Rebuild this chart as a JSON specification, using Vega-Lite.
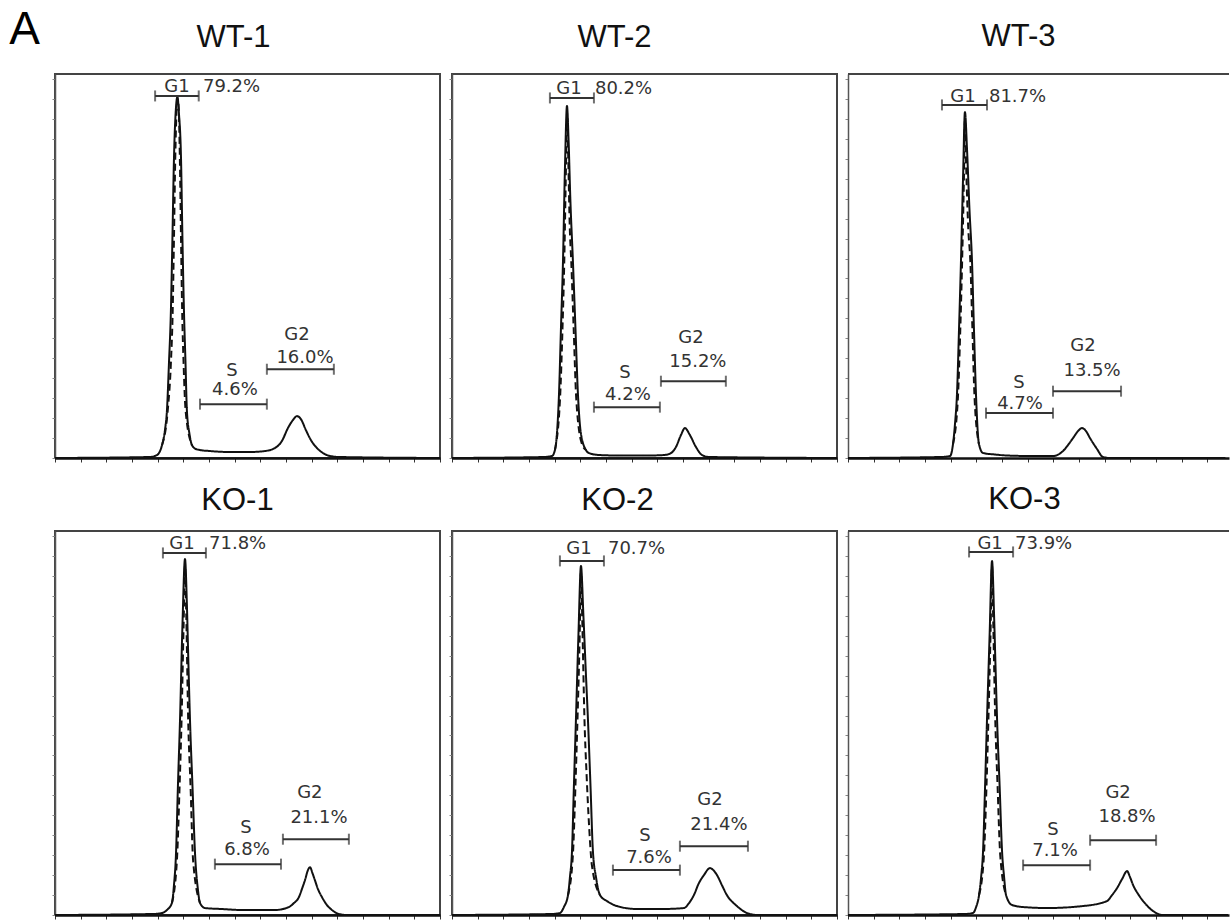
{
"$schema":"https://vega.github.io/schema/vega-lite/v6.json",
"padding":{"left":9,"top":6,"right":0,"bottom":0},
"background":"white",
"title":{"text":"A","orient":"left","anchor":"end","angle":0,"align":"left","baseline":"top","dy":-13,"offset":10,"fontSize":46,"font":"Liberation Sans","fontWeight":"normal","frame":"bounds","color":"#000"},
"config":{
 "view":{"stroke":"#444","strokeWidth":2},
 "title":{"font":"Liberation Sans","fontSize":31,"fontWeight":"normal","color":"#111"},
 "axisX":{"domainColor":"#111","domainWidth":2.5,"tickColor":"#333","tickSize":4,"tickWidth":1,"labels":false,"grid":false},
 "axisY":{"domainColor":"#555","domainWidth":1.5,"tickColor":"#888","tickSize":3,"tickWidth":1,"labels":false,"grid":false,"minExtent":0}
},
"datasets":{"d":[
{"s":"WT-1","k":"c","t":"1","x":0,"y":0},{"s":"WT-1","k":"c","t":"1","x":74,"y":1},{"s":"WT-1","k":"c","t":"1","x":79.5,"y":3},{"s":"WT-1","k":"c","t":"1","x":83.4,"y":13},{"s":"WT-1","k":"c","t":"1","x":85.7,"y":28},{"s":"WT-1","k":"c","t":"1","x":87.2,"y":47},{"s":"WT-1","k":"c","t":"1","x":88.8,"y":95},{"s":"WT-1","k":"c","t":"1","x":90.3,"y":147},{"s":"WT-1","k":"c","t":"1","x":91.5,"y":220},{"s":"WT-1","k":"c","t":"1","x":92.7,"y":300},{"s":"WT-1","k":"c","t":"1","x":94.2,"y":350},{"s":"WT-1","k":"c","t":"1","x":95.4,"y":362},{"s":"WT-1","k":"c","t":"1","x":96.6,"y":345},{"s":"WT-1","k":"c","t":"1","x":98.2,"y":300},{"s":"WT-1","k":"c","t":"1","x":99.3,"y":220},{"s":"WT-1","k":"c","t":"1","x":100.5,"y":147},{"s":"WT-1","k":"c","t":"1","x":101.7,"y":95},{"s":"WT-1","k":"c","t":"1","x":102.8,"y":47},{"s":"WT-1","k":"c","t":"1","x":104.8,"y":24},{"s":"WT-1","k":"c","t":"1","x":106.7,"y":13},{"s":"WT-1","k":"c","t":"1","x":109.8,"y":9},{"s":"WT-1","k":"c","t":"1","x":113,"y":8},{"s":"WT-1","k":"c","t":"1","x":120.7,"y":7},{"s":"WT-1","k":"c","t":"1","x":136.3,"y":6},{"s":"WT-1","k":"c","t":"1","x":151.9,"y":6},{"s":"WT-1","k":"c","t":"1","x":163.6,"y":7},{"s":"WT-1","k":"c","t":"1","x":171.4,"y":10},{"s":"WT-1","k":"c","t":"1","x":176.8,"y":17},{"s":"WT-1","k":"c","t":"1","x":181.5,"y":30},{"s":"WT-1","k":"c","t":"1","x":185.4,"y":38},{"s":"WT-1","k":"c","t":"1","x":188.5,"y":42},{"s":"WT-1","k":"c","t":"1","x":191.6,"y":39},{"s":"WT-1","k":"c","t":"1","x":195.5,"y":28},{"s":"WT-1","k":"c","t":"1","x":199.4,"y":18},{"s":"WT-1","k":"c","t":"1","x":204.1,"y":10},{"s":"WT-1","k":"c","t":"1","x":208.8,"y":5},{"s":"WT-1","k":"c","t":"1","x":214.2,"y":2},{"s":"WT-1","k":"c","t":"1","x":222,"y":1},{"s":"WT-1","k":"c","t":"1","x":300,"y":0},
{"s":"WT-1","k":"c","t":"2","x":83.4,"y":13},{"s":"WT-1","k":"c","t":"2","x":87.8,"y":47},{"s":"WT-1","k":"c","t":"2","x":90.3,"y":95},{"s":"WT-1","k":"c","t":"2","x":91.7,"y":147},{"s":"WT-1","k":"c","t":"2","x":92.7,"y":220},{"s":"WT-1","k":"c","t":"2","x":93.7,"y":300},{"s":"WT-1","k":"c","t":"2","x":94.8,"y":350},{"s":"WT-1","k":"c","t":"2","x":95.6,"y":360},{"s":"WT-1","k":"c","t":"2","x":96.4,"y":350},{"s":"WT-1","k":"c","t":"2","x":97.3,"y":300},{"s":"WT-1","k":"c","t":"2","x":98.2,"y":220},{"s":"WT-1","k":"c","t":"2","x":99.1,"y":147},{"s":"WT-1","k":"c","t":"2","x":100.2,"y":95},{"s":"WT-1","k":"c","t":"2","x":101.8,"y":47},{"s":"WT-1","k":"c","t":"2","x":106.7,"y":13},
{"s":"WT-1","k":"g","g":"G1","x":78,"x2":112,"y":363},{"s":"WT-1","k":"g","g":"S","x":113,"x2":165.1,"y":54},{"s":"WT-1","k":"g","g":"G2","x":165.1,"x2":217.3,"y":89},
{"s":"WT-1","k":"n","x":95,"y":367,"text":"G1"},{"s":"WT-1","k":"p","x":115.3,"y":367,"text":"79.2%"},{"s":"WT-1","k":"n","x":137.9,"y":82,"text":"S"},{"s":"WT-1","k":"n","x":140.2,"y":63,"text":"4.6%"},{"s":"WT-1","k":"n","x":188.5,"y":118,"text":"G2"},{"s":"WT-1","k":"n","x":194.8,"y":95,"text":"16.0%"},

{"s":"WT-2","k":"c","t":"1","x":0,"y":0},{"s":"WT-2","k":"c","t":"1","x":71.7,"y":1},{"s":"WT-2","k":"c","t":"1","x":77.9,"y":2},{"s":"WT-2","k":"c","t":"1","x":80.2,"y":8},{"s":"WT-2","k":"c","t":"1","x":81.8,"y":25},{"s":"WT-2","k":"c","t":"1","x":83.4,"y":65},{"s":"WT-2","k":"c","t":"1","x":84.9,"y":130},{"s":"WT-2","k":"c","t":"1","x":86.5,"y":198},{"s":"WT-2","k":"c","t":"1","x":88,"y":290},{"s":"WT-2","k":"c","t":"1","x":89.6,"y":353},{"s":"WT-2","k":"c","t":"1","x":90.8,"y":320},{"s":"WT-2","k":"c","t":"1","x":92.2,"y":260},{"s":"WT-2","k":"c","t":"1","x":94.2,"y":198},{"s":"WT-2","k":"c","t":"1","x":96.2,"y":130},{"s":"WT-2","k":"c","t":"1","x":98.1,"y":65},{"s":"WT-2","k":"c","t":"1","x":100.4,"y":25},{"s":"WT-2","k":"c","t":"1","x":104.4,"y":8},{"s":"WT-2","k":"c","t":"1","x":106.7,"y":5},{"s":"WT-2","k":"c","t":"1","x":114.5,"y":3},{"s":"WT-2","k":"c","t":"1","x":130.1,"y":2.5},{"s":"WT-2","k":"c","t":"1","x":153.5,"y":2.5},{"s":"WT-2","k":"c","t":"1","x":165.1,"y":3},{"s":"WT-2","k":"c","t":"1","x":169.2,"y":4},{"s":"WT-2","k":"c","t":"1","x":174.5,"y":11},{"s":"WT-2","k":"c","t":"1","x":178.4,"y":23},{"s":"WT-2","k":"c","t":"1","x":181.5,"y":30},{"s":"WT-2","k":"c","t":"1","x":185.4,"y":23},{"s":"WT-2","k":"c","t":"1","x":190.1,"y":11},{"s":"WT-2","k":"c","t":"1","x":194.8,"y":3},{"s":"WT-2","k":"c","t":"1","x":200.2,"y":1},{"s":"WT-2","k":"c","t":"1","x":300,"y":0},
{"s":"WT-2","k":"c","t":"2","x":80.2,"y":8},{"s":"WT-2","k":"c","t":"2","x":84.2,"y":60},{"s":"WT-2","k":"c","t":"2","x":86.1,"y":130},{"s":"WT-2","k":"c","t":"2","x":87.5,"y":198},{"s":"WT-2","k":"c","t":"2","x":88.8,"y":290},{"s":"WT-2","k":"c","t":"2","x":89.8,"y":345},{"s":"WT-2","k":"c","t":"2","x":90.6,"y":300},{"s":"WT-2","k":"c","t":"2","x":91.8,"y":230},{"s":"WT-2","k":"c","t":"2","x":92.9,"y":198},{"s":"WT-2","k":"c","t":"2","x":94.8,"y":130},{"s":"WT-2","k":"c","t":"2","x":96.8,"y":60},{"s":"WT-2","k":"c","t":"2","x":101,"y":15},{"s":"WT-2","k":"c","t":"2","x":104.4,"y":8},
{"s":"WT-2","k":"g","g":"G1","x":76.3,"x2":110.6,"y":361},{"s":"WT-2","k":"g","g":"S","x":110.6,"x2":162,"y":51},{"s":"WT-2","k":"g","g":"G2","x":162.8,"x2":213.4,"y":77},
{"s":"WT-2","k":"n","x":91.1,"y":365,"text":"G1"},{"s":"WT-2","k":"p","x":111.4,"y":365,"text":"80.2%"},{"s":"WT-2","k":"n","x":134.8,"y":80,"text":"S"},{"s":"WT-2","k":"n","x":137.1,"y":58,"text":"4.2%"},{"s":"WT-2","k":"n","x":186.2,"y":115,"text":"G2"},{"s":"WT-2","k":"n","x":191.6,"y":91,"text":"15.2%"},

{"s":"WT-3","k":"c","t":"1","x":0,"y":0},{"s":"WT-3","k":"c","t":"1","x":71.7,"y":1},{"s":"WT-3","k":"c","t":"1","x":79.5,"y":2},{"s":"WT-3","k":"c","t":"1","x":81.8,"y":14},{"s":"WT-3","k":"c","t":"1","x":83.4,"y":35},{"s":"WT-3","k":"c","t":"1","x":84.9,"y":64},{"s":"WT-3","k":"c","t":"1","x":86.5,"y":130},{"s":"WT-3","k":"c","t":"1","x":88,"y":197},{"s":"WT-3","k":"c","t":"1","x":89.6,"y":280},{"s":"WT-3","k":"c","t":"1","x":91.1,"y":347},{"s":"WT-3","k":"c","t":"1","x":92.7,"y":310},{"s":"WT-3","k":"c","t":"1","x":94.6,"y":250},{"s":"WT-3","k":"c","t":"1","x":96.6,"y":197},{"s":"WT-3","k":"c","t":"1","x":98.1,"y":130},{"s":"WT-3","k":"c","t":"1","x":99.7,"y":64},{"s":"WT-3","k":"c","t":"1","x":102,"y":14},{"s":"WT-3","k":"c","t":"1","x":105.2,"y":5},{"s":"WT-3","k":"c","t":"1","x":114.5,"y":3.5},{"s":"WT-3","k":"c","t":"1","x":123.9,"y":2.5},{"s":"WT-3","k":"c","t":"1","x":141.8,"y":2},{"s":"WT-3","k":"c","t":"1","x":159.7,"y":2},{"s":"WT-3","k":"c","t":"1","x":167.5,"y":7},{"s":"WT-3","k":"c","t":"1","x":171.4,"y":13},{"s":"WT-3","k":"c","t":"1","x":175.3,"y":20},{"s":"WT-3","k":"c","t":"1","x":179.2,"y":27},{"s":"WT-3","k":"c","t":"1","x":182.3,"y":30},{"s":"WT-3","k":"c","t":"1","x":185.4,"y":27},{"s":"WT-3","k":"c","t":"1","x":188.5,"y":20},{"s":"WT-3","k":"c","t":"1","x":194,"y":9},{"s":"WT-3","k":"c","t":"1","x":198.6,"y":1},{"s":"WT-3","k":"c","t":"1","x":204.1,"y":0},{"s":"WT-3","k":"c","t":"1","x":294,"y":0},
{"s":"WT-3","k":"c","t":"2","x":81.8,"y":14},{"s":"WT-3","k":"c","t":"2","x":85.6,"y":60},{"s":"WT-3","k":"c","t":"2","x":87.5,"y":130},{"s":"WT-3","k":"c","t":"2","x":88.9,"y":197},{"s":"WT-3","k":"c","t":"2","x":90.3,"y":280},{"s":"WT-3","k":"c","t":"2","x":91.1,"y":340},{"s":"WT-3","k":"c","t":"2","x":92.1,"y":290},{"s":"WT-3","k":"c","t":"2","x":93.7,"y":230},{"s":"WT-3","k":"c","t":"2","x":95.3,"y":197},{"s":"WT-3","k":"c","t":"2","x":96.9,"y":130},{"s":"WT-3","k":"c","t":"2","x":98.6,"y":60},{"s":"WT-3","k":"c","t":"2","x":102,"y":14},
{"s":"WT-3","k":"g","g":"G1","x":73.2,"x2":108.3,"y":354},{"s":"WT-3","k":"g","g":"S","x":107.5,"x2":159.7,"y":45},{"s":"WT-3","k":"g","g":"G2","x":159.7,"x2":212.7,"y":67},
{"s":"WT-3","k":"n","x":89.6,"y":357,"text":"G1"},{"s":"WT-3","k":"p","x":109.8,"y":357,"text":"81.7%"},{"s":"WT-3","k":"n","x":133.2,"y":70,"text":"S"},{"s":"WT-3","k":"n","x":134,"y":49,"text":"4.7%"},{"s":"WT-3","k":"n","x":183.1,"y":107,"text":"G2"},{"s":"WT-3","k":"n","x":190.1,"y":82,"text":"13.5%"},

{"s":"KO-1","k":"c","t":"1","x":0,"y":0},{"s":"KO-1","k":"c","t":"1","x":75.6,"y":1},{"s":"KO-1","k":"c","t":"1","x":83.4,"y":2},{"s":"KO-1","k":"c","t":"1","x":87.2,"y":5},{"s":"KO-1","k":"c","t":"1","x":91.1,"y":12},{"s":"KO-1","k":"c","t":"1","x":92.7,"y":30},{"s":"KO-1","k":"c","t":"1","x":94.3,"y":62},{"s":"KO-1","k":"c","t":"1","x":95.8,"y":130},{"s":"KO-1","k":"c","t":"1","x":97.4,"y":195},{"s":"KO-1","k":"c","t":"1","x":99.3,"y":290},{"s":"KO-1","k":"c","t":"1","x":101.3,"y":357},{"s":"KO-1","k":"c","t":"1","x":102.8,"y":310},{"s":"KO-1","k":"c","t":"1","x":104,"y":250},{"s":"KO-1","k":"c","t":"1","x":105.2,"y":195},{"s":"KO-1","k":"c","t":"1","x":107.1,"y":130},{"s":"KO-1","k":"c","t":"1","x":109.1,"y":62},{"s":"KO-1","k":"c","t":"1","x":111.4,"y":25},{"s":"KO-1","k":"c","t":"1","x":113,"y":12},{"s":"KO-1","k":"c","t":"1","x":116.9,"y":7},{"s":"KO-1","k":"c","t":"1","x":130.1,"y":6},{"s":"KO-1","k":"c","t":"1","x":145.7,"y":5},{"s":"KO-1","k":"c","t":"1","x":171.4,"y":5},{"s":"KO-1","k":"c","t":"1","x":182.3,"y":8},{"s":"KO-1","k":"c","t":"1","x":186.2,"y":12},{"s":"KO-1","k":"c","t":"1","x":190.1,"y":18},{"s":"KO-1","k":"c","t":"1","x":192.4,"y":26},{"s":"KO-1","k":"c","t":"1","x":194.8,"y":35},{"s":"KO-1","k":"c","t":"1","x":197.1,"y":45},{"s":"KO-1","k":"c","t":"1","x":198.7,"y":48},{"s":"KO-1","k":"c","t":"1","x":200.6,"y":42},{"s":"KO-1","k":"c","t":"1","x":202.5,"y":35},{"s":"KO-1","k":"c","t":"1","x":204.9,"y":26},{"s":"KO-1","k":"c","t":"1","x":208,"y":18},{"s":"KO-1","k":"c","t":"1","x":211.9,"y":10},{"s":"KO-1","k":"c","t":"1","x":215.8,"y":5},{"s":"KO-1","k":"c","t":"1","x":221.2,"y":1},{"s":"KO-1","k":"c","t":"1","x":227.5,"y":0},{"s":"KO-1","k":"c","t":"1","x":300,"y":0},
{"s":"KO-1","k":"c","t":"2","x":91.1,"y":12},{"s":"KO-1","k":"c","t":"2","x":95,"y":55},{"s":"KO-1","k":"c","t":"2","x":97.1,"y":130},{"s":"KO-1","k":"c","t":"2","x":98.6,"y":195},{"s":"KO-1","k":"c","t":"2","x":100.2,"y":290},{"s":"KO-1","k":"c","t":"2","x":101.3,"y":350},{"s":"KO-1","k":"c","t":"2","x":102.3,"y":300},{"s":"KO-1","k":"c","t":"2","x":103.8,"y":195},{"s":"KO-1","k":"c","t":"2","x":105.6,"y":130},{"s":"KO-1","k":"c","t":"2","x":107.6,"y":55},{"s":"KO-1","k":"c","t":"2","x":113,"y":12},
{"s":"KO-1","k":"g","g":"G1","x":84.1,"x2":117.6,"y":363},{"s":"KO-1","k":"g","g":"S","x":124.6,"x2":176.1,"y":51},{"s":"KO-1","k":"g","g":"G2","x":177.6,"x2":229,"y":76},
{"s":"KO-1","k":"n","x":98.9,"y":367,"text":"G1"},{"s":"KO-1","k":"p","x":120,"y":367,"text":"71.8%"},{"s":"KO-1","k":"n","x":148.8,"y":82,"text":"S"},{"s":"KO-1","k":"n","x":149.6,"y":60,"text":"6.8%"},{"s":"KO-1","k":"n","x":198.6,"y":117,"text":"G2"},{"s":"KO-1","k":"n","x":205.7,"y":92,"text":"21.1%"},

{"s":"KO-2","k":"c","t":"1","x":0,"y":0},{"s":"KO-2","k":"c","t":"1","x":77.9,"y":1},{"s":"KO-2","k":"c","t":"1","x":84.1,"y":2},{"s":"KO-2","k":"c","t":"1","x":87.2,"y":8},{"s":"KO-2","k":"c","t":"1","x":90.4,"y":20},{"s":"KO-2","k":"c","t":"1","x":91.9,"y":38},{"s":"KO-2","k":"c","t":"1","x":93.5,"y":64},{"s":"KO-2","k":"c","t":"1","x":95,"y":130},{"s":"KO-2","k":"c","t":"1","x":96.6,"y":197},{"s":"KO-2","k":"c","t":"1","x":98.5,"y":280},{"s":"KO-2","k":"c","t":"1","x":100.5,"y":350},{"s":"KO-2","k":"c","t":"1","x":102.4,"y":300},{"s":"KO-2","k":"c","t":"1","x":104.4,"y":240},{"s":"KO-2","k":"c","t":"1","x":105.9,"y":197},{"s":"KO-2","k":"c","t":"1","x":107.9,"y":130},{"s":"KO-2","k":"c","t":"1","x":109.8,"y":64},{"s":"KO-2","k":"c","t":"1","x":112.2,"y":38},{"s":"KO-2","k":"c","t":"1","x":115.3,"y":20},{"s":"KO-2","k":"c","t":"1","x":120.7,"y":14},{"s":"KO-2","k":"c","t":"1","x":128.5,"y":9},{"s":"KO-2","k":"c","t":"1","x":144.1,"y":6},{"s":"KO-2","k":"c","t":"1","x":163.6,"y":6},{"s":"KO-2","k":"c","t":"1","x":180.8,"y":7},{"s":"KO-2","k":"c","t":"1","x":184.7,"y":12},{"s":"KO-2","k":"c","t":"1","x":188.5,"y":20},{"s":"KO-2","k":"c","t":"1","x":192.4,"y":32},{"s":"KO-2","k":"c","t":"1","x":196.3,"y":40},{"s":"KO-2","k":"c","t":"1","x":201,"y":47},{"s":"KO-2","k":"c","t":"1","x":206.5,"y":40},{"s":"KO-2","k":"c","t":"1","x":210.3,"y":30},{"s":"KO-2","k":"c","t":"1","x":214.2,"y":20},{"s":"KO-2","k":"c","t":"1","x":222,"y":9},{"s":"KO-2","k":"c","t":"1","x":229.8,"y":2},{"s":"KO-2","k":"c","t":"1","x":237.6,"y":0},{"s":"KO-2","k":"c","t":"1","x":300,"y":0},
{"s":"KO-2","k":"c","t":"2","x":90.4,"y":20},{"s":"KO-2","k":"c","t":"2","x":94.2,"y":60},{"s":"KO-2","k":"c","t":"2","x":96.2,"y":130},{"s":"KO-2","k":"c","t":"2","x":97.8,"y":197},{"s":"KO-2","k":"c","t":"2","x":99.5,"y":280},{"s":"KO-2","k":"c","t":"2","x":100.5,"y":345},{"s":"KO-2","k":"c","t":"2","x":101.6,"y":290},{"s":"KO-2","k":"c","t":"2","x":103.2,"y":197},{"s":"KO-2","k":"c","t":"2","x":104.9,"y":140},{"s":"KO-2","k":"c","t":"2","x":106.8,"y":90},{"s":"KO-2","k":"c","t":"2","x":109,"y":50},{"s":"KO-2","k":"c","t":"2","x":115.3,"y":20},
{"s":"KO-2","k":"g","g":"G1","x":84.1,"x2":118.4,"y":355},{"s":"KO-2","k":"g","g":"S","x":125.4,"x2":177.6,"y":45},{"s":"KO-2","k":"g","g":"G2","x":177.6,"x2":230.6,"y":69},
{"s":"KO-2","k":"n","x":98.9,"y":362,"text":"G1"},{"s":"KO-2","k":"p","x":121.5,"y":362,"text":"70.7%"},{"s":"KO-2","k":"n","x":150.3,"y":74,"text":"S"},{"s":"KO-2","k":"n","x":153.5,"y":52,"text":"7.6%"},{"s":"KO-2","k":"n","x":201,"y":110,"text":"G2"},{"s":"KO-2","k":"n","x":208,"y":85,"text":"21.4%"},

{"s":"KO-3","k":"c","t":"1","x":0,"y":0},{"s":"KO-3","k":"c","t":"1","x":91.2,"y":1},{"s":"KO-3","k":"c","t":"1","x":97.4,"y":2},{"s":"KO-3","k":"c","t":"1","x":99.8,"y":8},{"s":"KO-3","k":"c","t":"1","x":102.1,"y":20},{"s":"KO-3","k":"c","t":"1","x":103.7,"y":38},{"s":"KO-3","k":"c","t":"1","x":105.2,"y":64},{"s":"KO-3","k":"c","t":"1","x":106.8,"y":130},{"s":"KO-3","k":"c","t":"1","x":108.3,"y":197},{"s":"KO-3","k":"c","t":"1","x":110.3,"y":280},{"s":"KO-3","k":"c","t":"1","x":112.2,"y":355},{"s":"KO-3","k":"c","t":"1","x":113.8,"y":300},{"s":"KO-3","k":"c","t":"1","x":114.9,"y":250},{"s":"KO-3","k":"c","t":"1","x":116.1,"y":197},{"s":"KO-3","k":"c","t":"1","x":118.1,"y":130},{"s":"KO-3","k":"c","t":"1","x":120,"y":64},{"s":"KO-3","k":"c","t":"1","x":121.6,"y":38},{"s":"KO-3","k":"c","t":"1","x":123.1,"y":20},{"s":"KO-3","k":"c","t":"1","x":127.8,"y":10},{"s":"KO-3","k":"c","t":"1","x":136.4,"y":8},{"s":"KO-3","k":"c","t":"1","x":155.1,"y":7},{"s":"KO-3","k":"c","t":"1","x":183.1,"y":9},{"s":"KO-3","k":"c","t":"1","x":201.8,"y":14},{"s":"KO-3","k":"c","t":"1","x":205.7,"y":20},{"s":"KO-3","k":"c","t":"1","x":209.6,"y":27},{"s":"KO-3","k":"c","t":"1","x":213.5,"y":36},{"s":"KO-3","k":"c","t":"1","x":217.4,"y":44},{"s":"KO-3","k":"c","t":"1","x":219.7,"y":38},{"s":"KO-3","k":"c","t":"1","x":222.1,"y":30},{"s":"KO-3","k":"c","t":"1","x":226,"y":21},{"s":"KO-3","k":"c","t":"1","x":229.9,"y":14},{"s":"KO-3","k":"c","t":"1","x":237.6,"y":4},{"s":"KO-3","k":"c","t":"1","x":245.4,"y":0},{"s":"KO-3","k":"c","t":"1","x":296,"y":0},
{"s":"KO-3","k":"c","t":"2","x":102.1,"y":20},{"s":"KO-3","k":"c","t":"2","x":105.9,"y":60},{"s":"KO-3","k":"c","t":"2","x":107.9,"y":130},{"s":"KO-3","k":"c","t":"2","x":109.4,"y":197},{"s":"KO-3","k":"c","t":"2","x":111,"y":280},{"s":"KO-3","k":"c","t":"2","x":112.2,"y":350},{"s":"KO-3","k":"c","t":"2","x":113.2,"y":290},{"s":"KO-3","k":"c","t":"2","x":114.7,"y":197},{"s":"KO-3","k":"c","t":"2","x":116.5,"y":130},{"s":"KO-3","k":"c","t":"2","x":118.6,"y":60},{"s":"KO-3","k":"c","t":"2","x":123.1,"y":20},
{"s":"KO-3","k":"g","g":"G1","x":94.3,"x2":128.6,"y":364},{"s":"KO-3","k":"g","g":"S","x":136.4,"x2":188.6,"y":50},{"s":"KO-3","k":"g","g":"G2","x":188.6,"x2":240,"y":75},
{"s":"KO-3","k":"n","x":110.7,"y":367,"text":"G1"},{"s":"KO-3","k":"p","x":130.1,"y":367,"text":"73.9%"},{"s":"KO-3","k":"n","x":159.7,"y":80,"text":"S"},{"s":"KO-3","k":"n","x":161.3,"y":59,"text":"7.1%"},{"s":"KO-3","k":"n","x":210.4,"y":117,"text":"G2"},{"s":"KO-3","k":"n","x":217.4,"y":93,"text":"18.8%"}
]},
"columns":3,
"spacing":{"row":20,"column":2},
"concat":[
{"width":385,"height":384,"title":{"text":"WT-1","dx":-14,"offset":20.5},"data":{"name":"d"},"transform":[{"filter":"datum.s==='WT-1'"}],
 "encoding":{"x":{"field":"x","type":"quantitative","title":null,"scale":{"domain":[0,300],"nice":false,"zero":false},"axis":{"values":[0,20,40,60,80,100,120,140,160,180,200,220,240,260,280,300]}},"y":{"field":"y","type":"quantitative","title":null,"scale":{"domain":[0,385],"nice":false,"zero":false},"axis":{"values":[0,20,40,60,80,100,120,140,160,180,200,220,240,260,280,300,320,340,360,380]}}},
 "layer":[
  {"transform":[{"filter":"datum.k==='c'"}],"mark":{"type":"line","color":"#111","strokeWidth":2,"interpolate":"monotone"},"encoding":{"strokeDash":{"field":"t","type":"nominal","scale":{"domain":["1","2"],"range":[[1,0],[7,4]]},"legend":null}}},
  {"transform":[{"filter":"datum.k==='g'"}],"mark":{"type":"rule","color":"#333","strokeWidth":2},"encoding":{"x2":{"field":"x2"}}},
  {"transform":[{"filter":"datum.k==='g'"}],"mark":{"type":"tick","orient":"vertical","size":11,"thickness":2,"color":"#333"}},
  {"transform":[{"filter":"datum.k==='g'"}],"mark":{"type":"tick","orient":"vertical","size":11,"thickness":2,"color":"#333"},"encoding":{"x":{"field":"x2","type":"quantitative","title":null,"scale":{"domain":[0,300],"nice":false,"zero":false}}}},
  {"transform":[{"filter":"datum.k==='n'"}],"mark":{"type":"text","align":"center","baseline":"alphabetic","font":"DejaVu Sans","fontSize":18,"color":"#333"},"encoding":{"text":{"field":"text"}}},
  {"transform":[{"filter":"datum.k==='p'"}],"mark":{"type":"text","align":"left","baseline":"alphabetic","font":"DejaVu Sans","fontSize":18,"color":"#333"},"encoding":{"text":{"field":"text"}}}
 ]},
{"width":385,"height":384,"title":{"text":"WT-2","dx":-30,"offset":20.5},"data":{"name":"d"},"transform":[{"filter":"datum.s==='WT-2'"}],
 "encoding":{"x":{"field":"x","type":"quantitative","title":null,"scale":{"domain":[0,300],"nice":false,"zero":false},"axis":{"values":[0,20,40,60,80,100,120,140,160,180,200,220,240,260,280,300]}},"y":{"field":"y","type":"quantitative","title":null,"scale":{"domain":[0,385],"nice":false,"zero":false},"axis":{"values":[0,20,40,60,80,100,120,140,160,180,200,220,240,260,280,300,320,340,360,380]}}},
 "layer":[
  {"transform":[{"filter":"datum.k==='c'"}],"mark":{"type":"line","color":"#111","strokeWidth":2,"interpolate":"monotone"},"encoding":{"strokeDash":{"field":"t","type":"nominal","scale":{"domain":["1","2"],"range":[[1,0],[7,4]]},"legend":null}}},
  {"transform":[{"filter":"datum.k==='g'"}],"mark":{"type":"rule","color":"#333","strokeWidth":2},"encoding":{"x2":{"field":"x2"}}},
  {"transform":[{"filter":"datum.k==='g'"}],"mark":{"type":"tick","orient":"vertical","size":11,"thickness":2,"color":"#333"}},
  {"transform":[{"filter":"datum.k==='g'"}],"mark":{"type":"tick","orient":"vertical","size":11,"thickness":2,"color":"#333"},"encoding":{"x":{"field":"x2","type":"quantitative","title":null,"scale":{"domain":[0,300],"nice":false,"zero":false}}}},
  {"transform":[{"filter":"datum.k==='n'"}],"mark":{"type":"text","align":"center","baseline":"alphabetic","font":"DejaVu Sans","fontSize":18,"color":"#333"},"encoding":{"text":{"field":"text"}}},
  {"transform":[{"filter":"datum.k==='p'"}],"mark":{"type":"text","align":"left","baseline":"alphabetic","font":"DejaVu Sans","fontSize":18,"color":"#333"},"encoding":{"text":{"field":"text"}}}
 ]},
{"width":381,"height":384,"title":{"text":"WT-3","dx":-20,"offset":20.5},"view":{"stroke":null},"data":{"name":"d"},"transform":[{"filter":"datum.s==='WT-3'"}],
 "encoding":{"x":{"field":"x","type":"quantitative","title":null,"scale":{"domain":[0,296.8],"nice":false,"zero":false},"axis":{"values":[0,20,40,60,80,100,120,140,160,180,200,220,240,260,280]}},"y":{"field":"y","type":"quantitative","title":null,"scale":{"domain":[0,385],"nice":false,"zero":false},"axis":{"values":[0,20,40,60,80,100,120,140,160,180,200,220,240,260,280,300,320,340,360,380]}}},
 "layer":[
  {"transform":[{"filter":"datum.k==='p'"}],"mark":{"type":"rule","color":"#444","strokeWidth":2},"encoding":{"x":{"datum":0,"type":"quantitative"},"x2":{"datum":296.8},"y":{"datum":385,"type":"quantitative"}}},
  {"transform":[{"filter":"datum.k==='c'"}],"mark":{"type":"line","color":"#111","strokeWidth":2,"interpolate":"monotone"},"encoding":{"strokeDash":{"field":"t","type":"nominal","scale":{"domain":["1","2"],"range":[[1,0],[7,4]]},"legend":null}}},
  {"transform":[{"filter":"datum.k==='g'"}],"mark":{"type":"rule","color":"#333","strokeWidth":2},"encoding":{"x2":{"field":"x2"}}},
  {"transform":[{"filter":"datum.k==='g'"}],"mark":{"type":"tick","orient":"vertical","size":11,"thickness":2,"color":"#333"}},
  {"transform":[{"filter":"datum.k==='g'"}],"mark":{"type":"tick","orient":"vertical","size":11,"thickness":2,"color":"#333"},"encoding":{"x":{"field":"x2","type":"quantitative","title":null,"scale":{"domain":[0,296.8],"nice":false,"zero":false}}}},
  {"transform":[{"filter":"datum.k==='n'"}],"mark":{"type":"text","align":"center","baseline":"alphabetic","font":"DejaVu Sans","fontSize":18,"color":"#333"},"encoding":{"text":{"field":"text"}}},
  {"transform":[{"filter":"datum.k==='p'"}],"mark":{"type":"text","align":"left","baseline":"alphabetic","font":"DejaVu Sans","fontSize":18,"color":"#333"},"encoding":{"text":{"field":"text"}}}
 ]},
{"width":385,"height":384,"title":{"text":"KO-1","dx":-10,"offset":14},"data":{"name":"d"},"transform":[{"filter":"datum.s==='KO-1'"}],
 "encoding":{"x":{"field":"x","type":"quantitative","title":null,"scale":{"domain":[0,300],"nice":false,"zero":false},"axis":{"values":[0,20,40,60,80,100,120,140,160,180,200,220,240,260,280,300]}},"y":{"field":"y","type":"quantitative","title":null,"scale":{"domain":[0,385],"nice":false,"zero":false},"axis":{"values":[0,20,40,60,80,100,120,140,160,180,200,220,240,260,280,300,320,340,360,380]}}},
 "layer":[
  {"transform":[{"filter":"datum.k==='c'"}],"mark":{"type":"line","color":"#111","strokeWidth":2,"interpolate":"monotone"},"encoding":{"strokeDash":{"field":"t","type":"nominal","scale":{"domain":["1","2"],"range":[[1,0],[7,4]]},"legend":null}}},
  {"transform":[{"filter":"datum.k==='g'"}],"mark":{"type":"rule","color":"#333","strokeWidth":2},"encoding":{"x2":{"field":"x2"}}},
  {"transform":[{"filter":"datum.k==='g'"}],"mark":{"type":"tick","orient":"vertical","size":11,"thickness":2,"color":"#333"}},
  {"transform":[{"filter":"datum.k==='g'"}],"mark":{"type":"tick","orient":"vertical","size":11,"thickness":2,"color":"#333"},"encoding":{"x":{"field":"x2","type":"quantitative","title":null,"scale":{"domain":[0,300],"nice":false,"zero":false}}}},
  {"transform":[{"filter":"datum.k==='n'"}],"mark":{"type":"text","align":"center","baseline":"alphabetic","font":"DejaVu Sans","fontSize":18,"color":"#333"},"encoding":{"text":{"field":"text"}}},
  {"transform":[{"filter":"datum.k==='p'"}],"mark":{"type":"text","align":"left","baseline":"alphabetic","font":"DejaVu Sans","fontSize":18,"color":"#333"},"encoding":{"text":{"field":"text"}}}
 ]},
{"width":385,"height":384,"title":{"text":"KO-2","dx":-27,"offset":14},"data":{"name":"d"},"transform":[{"filter":"datum.s==='KO-2'"}],
 "encoding":{"x":{"field":"x","type":"quantitative","title":null,"scale":{"domain":[0,300],"nice":false,"zero":false},"axis":{"values":[0,20,40,60,80,100,120,140,160,180,200,220,240,260,280,300]}},"y":{"field":"y","type":"quantitative","title":null,"scale":{"domain":[0,385],"nice":false,"zero":false},"axis":{"values":[0,20,40,60,80,100,120,140,160,180,200,220,240,260,280,300,320,340,360,380]}}},
 "layer":[
  {"transform":[{"filter":"datum.k==='c'"}],"mark":{"type":"line","color":"#111","strokeWidth":2,"interpolate":"monotone"},"encoding":{"strokeDash":{"field":"t","type":"nominal","scale":{"domain":["1","2"],"range":[[1,0],[7,4]]},"legend":null}}},
  {"transform":[{"filter":"datum.k==='g'"}],"mark":{"type":"rule","color":"#333","strokeWidth":2},"encoding":{"x2":{"field":"x2"}}},
  {"transform":[{"filter":"datum.k==='g'"}],"mark":{"type":"tick","orient":"vertical","size":11,"thickness":2,"color":"#333"}},
  {"transform":[{"filter":"datum.k==='g'"}],"mark":{"type":"tick","orient":"vertical","size":11,"thickness":2,"color":"#333"},"encoding":{"x":{"field":"x2","type":"quantitative","title":null,"scale":{"domain":[0,300],"nice":false,"zero":false}}}},
  {"transform":[{"filter":"datum.k==='n'"}],"mark":{"type":"text","align":"center","baseline":"alphabetic","font":"DejaVu Sans","fontSize":18,"color":"#333"},"encoding":{"text":{"field":"text"}}},
  {"transform":[{"filter":"datum.k==='p'"}],"mark":{"type":"text","align":"left","baseline":"alphabetic","font":"DejaVu Sans","fontSize":18,"color":"#333"},"encoding":{"text":{"field":"text"}}}
 ]},
{"width":381,"height":384,"title":{"text":"KO-3","dx":-14,"offset":14},"view":{"stroke":null},"data":{"name":"d"},"transform":[{"filter":"datum.s==='KO-3'"}],
 "encoding":{"x":{"field":"x","type":"quantitative","title":null,"scale":{"domain":[0,296.8],"nice":false,"zero":false},"axis":{"values":[0,20,40,60,80,100,120,140,160,180,200,220,240,260,280]}},"y":{"field":"y","type":"quantitative","title":null,"scale":{"domain":[0,385],"nice":false,"zero":false},"axis":{"values":[0,20,40,60,80,100,120,140,160,180,200,220,240,260,280,300,320,340,360,380]}}},
 "layer":[
  {"transform":[{"filter":"datum.k==='p'"}],"mark":{"type":"rule","color":"#444","strokeWidth":2},"encoding":{"x":{"datum":0,"type":"quantitative"},"x2":{"datum":296.8},"y":{"datum":385,"type":"quantitative"}}},
  {"transform":[{"filter":"datum.k==='c'"}],"mark":{"type":"line","color":"#111","strokeWidth":2,"interpolate":"monotone"},"encoding":{"strokeDash":{"field":"t","type":"nominal","scale":{"domain":["1","2"],"range":[[1,0],[7,4]]},"legend":null}}},
  {"transform":[{"filter":"datum.k==='g'"}],"mark":{"type":"rule","color":"#333","strokeWidth":2},"encoding":{"x2":{"field":"x2"}}},
  {"transform":[{"filter":"datum.k==='g'"}],"mark":{"type":"tick","orient":"vertical","size":11,"thickness":2,"color":"#333"}},
  {"transform":[{"filter":"datum.k==='g'"}],"mark":{"type":"tick","orient":"vertical","size":11,"thickness":2,"color":"#333"},"encoding":{"x":{"field":"x2","type":"quantitative","title":null,"scale":{"domain":[0,296.8],"nice":false,"zero":false}}}},
  {"transform":[{"filter":"datum.k==='n'"}],"mark":{"type":"text","align":"center","baseline":"alphabetic","font":"DejaVu Sans","fontSize":18,"color":"#333"},"encoding":{"text":{"field":"text"}}},
  {"transform":[{"filter":"datum.k==='p'"}],"mark":{"type":"text","align":"left","baseline":"alphabetic","font":"DejaVu Sans","fontSize":18,"color":"#333"},"encoding":{"text":{"field":"text"}}}
 ]}
]
}
